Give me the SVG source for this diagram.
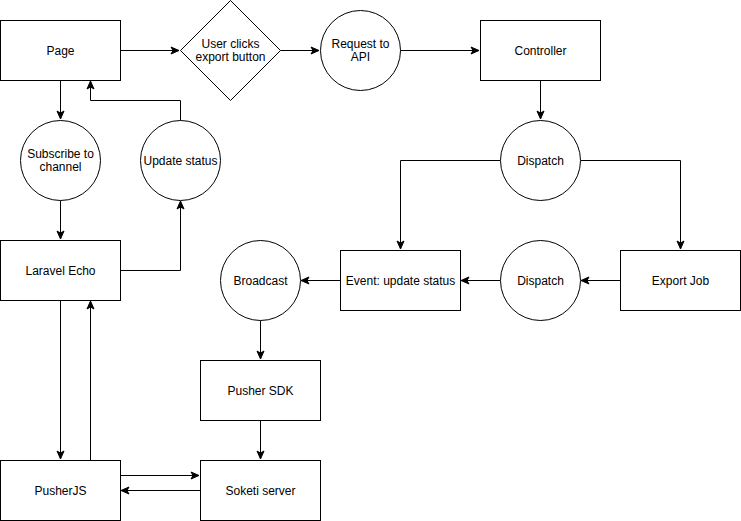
<svg xmlns="http://www.w3.org/2000/svg" width="741" height="521" viewBox="0 0 741 521">
<style>
.n{fill:#fff;stroke:#000;stroke-width:1}
.t{font-family:"Liberation Sans",Arial,sans-serif;font-size:12px;fill:#000;text-anchor:middle;dominant-baseline:central}
.e{fill:none;stroke:#000;stroke-width:1;marker-end:url(#a)}
</style>
<defs>
<marker id="a" markerUnits="userSpaceOnUse" markerWidth="10" markerHeight="10" refX="8" refY="4" orient="auto" overflow="visible">
<path d="M0,0.5 L8,4 L0,7.5 L2,4 Z" fill="#000" stroke="#000" stroke-width="1"/>
</marker>
</defs>
<rect width="741" height="521" fill="#fff"/>
<g id="connectors">
<path class="e" d="M120.5,50.5 H179"/>
<path class="e" d="M280.5,50.5 H319"/>
<path class="e" d="M400.5,50.5 H479"/>
<path class="e" d="M540.5,80.5 V119"/>
<path class="e" d="M500.5,160.5 H400.5 V249"/>
<path class="e" d="M580.5,160.5 H680.5 V249"/>
<path class="e" d="M620.5,280.5 H581"/>
<path class="e" d="M500.5,280.5 H461"/>
<path class="e" d="M340.5,280.5 H301"/>
<path class="e" d="M260.5,320.5 V359"/>
<path class="e" d="M260.5,420.5 V459"/>
<path class="e" d="M120.5,475.5 H199"/>
<path class="e" d="M200.5,490.5 H121"/>
<path class="e" d="M60.5,300.5 V459"/>
<path class="e" d="M90.5,460.5 V301"/>
<path class="e" d="M60.5,80.5 V119"/>
<path class="e" d="M60.5,200.5 V239"/>
<path class="e" d="M120.5,270.5 H180.5 V201"/>
<path class="e" d="M180.5,120.5 V100.5 H90.5 V81"/>
</g>
<g id="page"><rect class="n" x="0.5" y="20.5" width="120" height="60"/><text class="t" x="60.5" y="50.5">Page</text></g>
<g id="user-clicks"><path class="n" d="M230.5,0.5 L280.5,50.5 L230.5,100.5 L180.5,50.5 Z"/><text class="t" x="230.5" y="44">User clicks</text><text class="t" x="230.5" y="57">export button</text></g>
<g id="request"><circle class="n" cx="360.5" cy="50.5" r="40"/><text class="t" x="360.5" y="44">Request to</text><text class="t" x="360.5" y="57">API</text></g>
<g id="controller"><rect class="n" x="480.5" y="20.5" width="120" height="60"/><text class="t" x="540.5" y="50.5">Controller</text></g>
<g id="dispatch1"><circle class="n" cx="540.5" cy="160.5" r="40"/><text class="t" x="540.5" y="160.5">Dispatch</text></g>
<g id="subscribe"><circle class="n" cx="60.5" cy="160.5" r="40"/><text class="t" x="60.5" y="154">Subscribe to</text><text class="t" x="60.5" y="167">channel</text></g>
<g id="update-status"><circle class="n" cx="180.5" cy="160.5" r="40"/><text class="t" x="180.5" y="160.5">Update status</text></g>
<g id="laravel-echo"><rect class="n" x="0.5" y="240.5" width="120" height="60"/><text class="t" x="60.5" y="270.5">Laravel Echo</text></g>
<g id="broadcast"><circle class="n" cx="260.5" cy="280.5" r="40"/><text class="t" x="260.5" y="280.5">Broadcast</text></g>
<g id="event"><rect class="n" x="340.5" y="250.5" width="120" height="60"/><text class="t" x="400.5" y="280.5">Event: update status</text></g>
<g id="dispatch2"><circle class="n" cx="540.5" cy="280.5" r="40"/><text class="t" x="540.5" y="280.5">Dispatch</text></g>
<g id="export-job"><rect class="n" x="620.5" y="250.5" width="120" height="60"/><text class="t" x="680.5" y="280.5">Export Job</text></g>
<g id="pusher-sdk"><rect class="n" x="200.5" y="360.5" width="120" height="60"/><text class="t" x="260.5" y="390.5">Pusher SDK</text></g>
<g id="pusherjs"><rect class="n" x="0.5" y="460.5" width="120" height="60"/><text class="t" x="60.5" y="490.5">PusherJS</text></g>
<g id="soketi"><rect class="n" x="200.5" y="460.5" width="120" height="60"/><text class="t" x="260.5" y="490.5">Soketi server</text></g>
</svg>
